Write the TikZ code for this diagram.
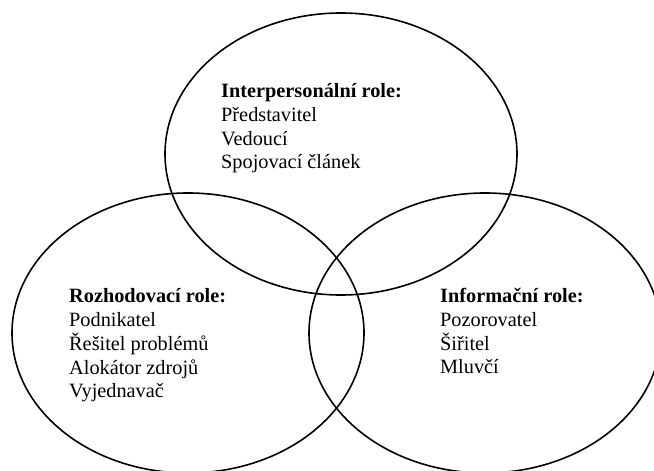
\documentclass[tikz,border=0pt]{standalone}
\usepackage{fontspec}
\setmainfont{Liberation Serif}
\usepackage{tikz}
\tikzset{
  kruh/.style={draw,line width=1.6pt},
  role/.style={align=left,anchor=base west,inner sep=0pt,
    font=\fontsize{20.3}{23.8}\selectfont}
}

\begin{document}
\begin{tikzpicture}[x=1pt,y=1pt]
    \useasboundingbox (0,0) rectangle (654,471);
    % tri role
    \draw[kruh] (341,317) ellipse [x radius=176,y radius=141];
    \draw[kruh] (188,138) ellipse [x radius=176,y radius=140];
    \draw[kruh] (485,138) ellipse [x radius=176,y radius=140];

    % base = posledni radek
    \node[role] (inter) at (221,302)
      {\textbf{Interpersonální role:}\\ Představitel\\ Vedoucí\\ Spojovací článek};
    \node[role] (rozh) at (69,73)
      {\textbf{Rozhodovací role:}\\ Podnikatel\\ Řešitel problémů\\ Alokátor zdrojů\\ Vyjednavač};
    \node[role] (info) at (440,97)
      {\textbf{Informační role:}\\ Pozorovatel\\ Šiřitel\\ Mluvčí};
\end{tikzpicture}
\end{document}
